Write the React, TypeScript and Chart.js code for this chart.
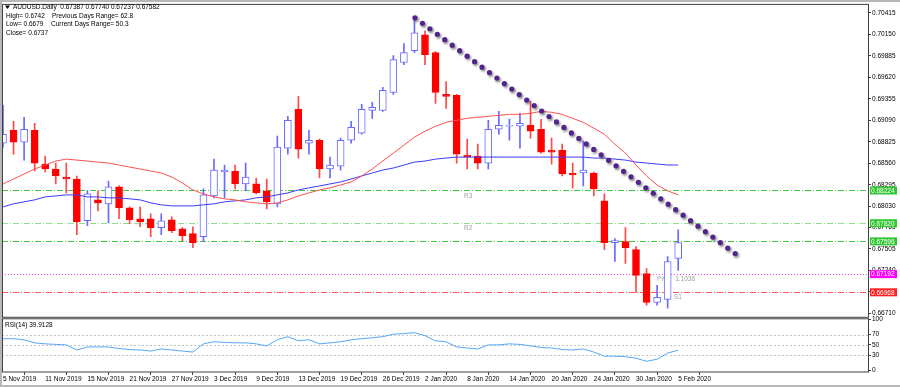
import React, { useEffect, useRef } from "react";
import { Chart, registerables } from "chart.js";

Chart.register(...registerables);

// ---------- data ----------
const dateLabels = [
  "5 Nov 2019", "11 Nov 2019", "15 Nov 2019", "21 Nov 2019", "27 Nov 2019",
  "3 Dec 2019", "9 Dec 2019", "13 Dec 2019", "19 Dec 2019", "26 Dec 2019",
  "2 Jan 2020", "8 Jan 2020", "14 Jan 2020", "20 Jan 2020", "24 Jan 2020",
  "30 Jan 2020", "5 Feb 2020",
];
const dateTickBars = [0, 4, 8, 12, 16, 20, 24, 28, 32, 36, 40, 44, 48, 52, 56, 60, 64];

const opens = [
  0.68808, 0.68967, 0.6882, 0.68967, 0.6855, 0.68489, 0.6839, 0.68366, 0.67851, 0.68108,
  0.68059, 0.68268, 0.6801, 0.67875, 0.67875, 0.67765, 0.67863, 0.67752, 0.67691, 0.67654,
  0.68157, 0.68452, 0.68464, 0.68305, 0.68305, 0.68219, 0.68059, 0.68746, 0.69225, 0.68808,
  0.68844, 0.68489, 0.68525, 0.68844, 0.6893, 0.69213, 0.69213, 0.69433, 0.69802, 0.69949,
  0.70145, 0.69924, 0.69409, 0.69397, 0.6866, 0.68648, 0.68562, 0.68979, 0.69016, 0.69016,
  0.69029, 0.68979, 0.68722, 0.68722, 0.6844, 0.6844, 0.6844, 0.68096, 0.67581, 0.67593,
  0.67495, 0.672, 0.66844, 0.66881, 0.67387,
];
const highs = [
  0.69274, 0.69078, 0.69127, 0.69053, 0.68648, 0.68562, 0.68562, 0.68403, 0.68219, 0.68219,
  0.68341, 0.6828, 0.68022, 0.68022, 0.67936, 0.67936, 0.679, 0.67765, 0.67777, 0.68243,
  0.68611, 0.68538, 0.68538, 0.68562, 0.68378, 0.68366, 0.68894, 0.69139, 0.69384, 0.68967,
  0.68857, 0.68636, 0.68869, 0.69078, 0.69286, 0.69311, 0.69495, 0.69887, 0.70035, 0.70329,
  0.70194, 0.69937, 0.69568, 0.69409, 0.68857, 0.68795, 0.6909, 0.692, 0.69102, 0.69176,
  0.69323, 0.69102, 0.68869, 0.68795, 0.68562, 0.68832, 0.68452, 0.68182, 0.6763, 0.67765,
  0.67532, 0.67262, 0.67053, 0.67409, 0.6774,
];
const lows = [
  0.68759, 0.68673, 0.68599, 0.68464, 0.68452, 0.68305, 0.68194, 0.67679, 0.67789, 0.67973,
  0.67826, 0.67875, 0.67814, 0.67777, 0.67654, 0.67679, 0.67703, 0.67605, 0.67519, 0.67593,
  0.68133, 0.68133, 0.68243, 0.68219, 0.68182, 0.67998, 0.68022, 0.68673, 0.68624, 0.68673,
  0.68378, 0.68378, 0.68476, 0.68808, 0.68918, 0.69114, 0.692, 0.69409, 0.69777, 0.69924,
  0.69777, 0.69298, 0.69237, 0.68562, 0.68489, 0.68489, 0.68489, 0.68918, 0.68844, 0.68746,
  0.68869, 0.68685, 0.6855, 0.68403, 0.68256, 0.6828, 0.68157, 0.67495, 0.67348, 0.67323,
  0.66967, 0.66808, 0.66808, 0.66771, 0.67237,
];
const closes = [
  0.68918, 0.6882, 0.68979, 0.68562, 0.68489, 0.68403, 0.68366, 0.67838, 0.68182, 0.68071,
  0.68268, 0.6801, 0.67863, 0.67838, 0.67765, 0.67851, 0.67728, 0.67667, 0.67581, 0.6817,
  0.68476, 0.68476, 0.68305, 0.6839, 0.68194, 0.68084, 0.68759, 0.6909, 0.68734, 0.68844,
  0.68489, 0.68538, 0.68844, 0.69004, 0.69225, 0.69249, 0.69458, 0.69838, 0.69924, 0.7017,
  0.699, 0.69433, 0.69384, 0.68673, 0.68636, 0.68562, 0.68979, 0.69029, 0.69029, 0.69053,
  0.68955, 0.68697, 0.68697, 0.68427, 0.68415, 0.68476, 0.68243, 0.67581, 0.67605, 0.67519,
  0.67176, 0.66844, 0.66906, 0.67348, 0.67582,
];
const maFast = [
  0.68305, 0.68366, 0.68427, 0.68489, 0.68538, 0.68587, 0.68611, 0.68599, 0.68587, 0.68574,
  0.68562, 0.68538, 0.68513, 0.68489, 0.68464, 0.6844, 0.6839, 0.68317, 0.68231, 0.68182,
  0.68145, 0.68121, 0.68108, 0.68084, 0.68071, 0.68059, 0.68071, 0.68108, 0.68157, 0.68194,
  0.68231, 0.68256, 0.68292, 0.68329, 0.68403, 0.68489, 0.68587, 0.68685, 0.68783, 0.68881,
  0.68955, 0.69016, 0.69065, 0.6909, 0.69114, 0.69127, 0.69139, 0.69151, 0.69163, 0.69163,
  0.69176, 0.692, 0.69188, 0.69163, 0.69114, 0.69065, 0.68992, 0.68918, 0.68795, 0.68685,
  0.68538, 0.68403, 0.68292, 0.68219, 0.6817,
];
const maSlow = [
  0.68022, 0.68059, 0.68084, 0.68108, 0.68145, 0.68157, 0.6817, 0.6817, 0.68145, 0.68145,
  0.68133, 0.68133, 0.68121, 0.68108, 0.68071, 0.68047, 0.68034, 0.68034, 0.68034, 0.68047,
  0.68059, 0.68084, 0.68096, 0.68108, 0.68133, 0.68145, 0.6817, 0.68194, 0.68231, 0.68256,
  0.6828, 0.68305, 0.68329, 0.68366, 0.68403, 0.6844, 0.68476, 0.68501, 0.68538, 0.68574,
  0.68587, 0.68611, 0.68624, 0.68636, 0.68636, 0.68636, 0.68636, 0.68636, 0.68636, 0.68636,
  0.68636, 0.68636, 0.68636, 0.68636, 0.68636, 0.68636, 0.68624, 0.68624, 0.68611, 0.68599,
  0.68574, 0.68562, 0.6855, 0.68538, 0.68538,
];
const rsiValues = [
  62, 62, 60, 54, 52, 51, 50, 40, 46, 46,
  46, 43, 41, 40, 38, 42, 40, 38, 36, 52,
  56, 55, 54, 54, 52, 48, 60, 66, 58, 60,
  52, 54, 56, 60, 62, 64, 66, 71, 72, 74,
  68, 58, 56, 46, 44, 42, 50, 50, 52, 51,
  48, 45, 44, 41, 40, 42, 36, 28, 28, 27,
  24, 18, 22, 34, 39.9128,
];

const priceTickLabels = [
  "0.70415", "0.70150", "0.69885", "0.69620", "0.69355", "0.69090", "0.68825", "0.68560",
  "0.68295", "0.68030", "0.67765", "0.67505", "0.67240", "0.66975", "0.66710",
];
const rsiTickValues = [0, 30, 50, 70, 100];
const rsiLevelLines = [30, 50, 70];

const levelValues = [0.68224, 0.6782, 0.67596, 0.67192, 0.66968];
const levelLabels = ["0.68224", "0.67820", "0.67596", "0.67192", "0.66968"];

const pivotNames = ["R3", "R2", "Pivot  1.1036", "S1"];
const pivotLevels = [0.68224, 0.6782, 0.67192, 0.66968];
const pivotBars = [43.7, 43.7, 62.0, 63.6];

const trendStart = { bar: 39.05, price: 0.70354 };
const trendEnd = { bar: 69.4, price: 0.67446 };

const headerLine = "AUDUSD.Daily  0.67387 0.67740 0.67237 0.67582";
const infoLeft = ["High= 0.6742", "Low= 0.6679", "Close= 0.6737"];
const infoRight = ["Previous Days Range= 62.8", "Current Days Range= 50.3"];
const rsiTitle = "RSI(14) 39.9128";

// ---------- styles ----------
const FONT = '"Liberation Sans", Arial, sans-serif';
const BULL = "#6a6aff";
const BEAR = "#ff0000";
const BEAR_WICK = "#ff4848";
const levelLineColors = ["#3fc83f", "#8fdf8f", "#3fc83f", "#ee44ee", "#ff5555"];
const levelBoxColors = ["#33c633", "#33c633", "#33c633", "#ff00ff", "#ff2020"];
const levelDashes = [[6, 2, 1, 2], [6, 2, 1, 2], [6, 2, 1, 2], [1, 2], [6, 2, 1, 2]];

const X_MIN = -0.0948;
const X_MAX = 81.99;
const Y_MIN = 0.6666;
const Y_MAX = 0.70513;

const idx = opens.map((_, i) => i);

function dot(ctx: CanvasRenderingContext2D, px: number, py: number, r: number) {
  ctx.beginPath();
  ctx.arc(px, py, r, 0, Math.PI * 2);
  ctx.fill();
}

const mt4Plugin = {
  id: "mt4",
  beforeDraw(chart: any) {
    const ctx = chart.ctx;
    ctx.save();
    ctx.fillStyle = "#ffffff";
    ctx.fillRect(0, 0, chart.width, chart.height);
    ctx.restore();
  },
  beforeDatasetsDraw(chart: any) {
    const { ctx, chartArea: area } = chart;
    const x = chart.scales.x;
    const y = chart.scales.y;
    const r = chart.scales.rsi;
    ctx.save();
    ctx.beginPath();
    ctx.rect(area.left, y.top, area.right - area.left, y.bottom - y.top);
    ctx.clip();
    levelValues.forEach((v, k) => {
      const py = Math.round(y.getPixelForValue(v)) + 0.5;
      ctx.strokeStyle = levelLineColors[k];
      ctx.setLineDash(levelDashes[k]);
      ctx.lineWidth = 1;
      ctx.beginPath();
      ctx.moveTo(area.left, py);
      ctx.lineTo(area.right, py);
      ctx.stroke();
    });
    ctx.setLineDash([]);
    ctx.font = `6.5px ${FONT}`;
    ctx.fillStyle = "#a0a0a0";
    ctx.textBaseline = "top";
    ctx.textAlign = "left";
    pivotNames.forEach((name, k) => {
      ctx.fillText(name, x.getPixelForValue(pivotBars[k]), y.getPixelForValue(pivotLevels[k]) + 2);
    });
    ctx.restore();

    ctx.save();
    ctx.strokeStyle = "#c4c4c4";
    ctx.setLineDash([2, 2]);
    ctx.lineWidth = 1;
    rsiLevelLines.forEach((v) => {
      const py = Math.round(r.getPixelForValue(v)) + 0.5;
      ctx.beginPath();
      ctx.moveTo(area.left, py);
      ctx.lineTo(area.right, py);
      ctx.stroke();
    });
    ctx.restore();
  },
  afterDatasetsDraw(chart: any) {
    const { ctx } = chart;
    const x = chart.scales.x;
    const y = chart.scales.y;
    const x0 = x.getPixelForValue(trendStart.bar);
    const y0 = y.getPixelForValue(trendStart.price);
    const x1 = x.getPixelForValue(trendEnd.bar);
    const y1 = y.getPixelForValue(trendEnd.price);
    const len = Math.hypot(x1 - x0, y1 - y0);
    const n = Math.round(len / 9.3);
    ctx.save();
    ctx.filter = "blur(0.8px)";
    ctx.fillStyle = "rgba(60,60,60,0.6)";
    for (let k = 0; k <= n; k++) {
      const t = k / n;
      dot(ctx, x0 + (x1 - x0) * t + 1.3, y0 + (y1 - y0) * t + 1.7, 2.7);
    }
    ctx.filter = "none";
    ctx.fillStyle = "#52258c";
    for (let k = 0; k <= n; k++) {
      const t = k / n;
      dot(ctx, x0 + (x1 - x0) * t, y0 + (y1 - y0) * t, 2.6);
    }
    ctx.restore();
  },
  afterDraw(chart: any) {
    const { ctx, chartArea: area } = chart;
    const y = chart.scales.y;
    const r = chart.scales.rsi;
    ctx.save();
    // outer frame
    ctx.fillStyle = "#b8b8b8";
    ctx.fillRect(0, 0, chart.width, 2);
    ctx.fillRect(0, 0, 2, chart.height);
    ctx.fillRect(0, chart.height - 2, chart.width, 2);
    // pane borders
    ctx.strokeStyle = "#404040";
    ctx.lineWidth = 1;
    ctx.strokeRect(area.left + 0.5, y.top - 0.5, area.right - area.left, y.bottom - y.top + 0.5);
    ctx.strokeRect(area.left + 0.5, r.top + 1.5, area.right - area.left, r.bottom - r.top - 1.5);
    // header info
    ctx.fillStyle = "#000";
    ctx.beginPath();
    ctx.moveTo(5, 5.5);
    ctx.lineTo(10, 5.5);
    ctx.lineTo(7.5, 9);
    ctx.closePath();
    ctx.fill();
    ctx.font = `6.5px ${FONT}`;
    ctx.textBaseline = "middle";
    ctx.textAlign = "left";
    ctx.fillText(headerLine, 13, 7.5);
    infoLeft.forEach((s, k) => ctx.fillText(s, 6, 16 + k * 8.5));
    infoRight.forEach((s, k) => ctx.fillText(s, 52 - k, 16 + k * 8.5));
    ctx.fillText(rsiTitle, 5, r.top + 7.5);
    // level boxes
    levelValues.forEach((v, k) => {
      const py = y.getPixelForValue(v);
      ctx.fillStyle = levelBoxColors[k];
      ctx.fillRect(y.left + 2, py - 4, 27, 8);
      ctx.fillStyle = "#ffffff";
      ctx.fillText(levelLabels[k], y.left + 3, py + 0.5);
    });
    ctx.restore();
  },
};

export default function App() {
  const ref = useRef<HTMLCanvasElement | null>(null);
  useEffect(() => {
    document.body.style.margin = "0";
    const canvas = ref.current;
    if (!canvas) return;
    const bull = idx.map((i) => closes[i] >= opens[i]);
    const tickFont = { family: FONT, size: 6.5 };
    const chart = new Chart(canvas, {
      data: {
        datasets: [
          {
            type: "line",
            data: idx.map((i) => ({ x: i, y: rsiValues[i] })),
            yAxisID: "rsi",
            borderColor: "#55a8f5",
            borderWidth: 1,
            pointRadius: 0,
            tension: 0,
            order: 0,
          },
          {
            type: "line",
            data: idx.map((i) => ({ x: i, y: maFast[i] })),
            yAxisID: "y",
            borderColor: "#ff5050",
            borderWidth: 1,
            pointRadius: 0,
            tension: 0,
            order: 1,
          },
          {
            type: "line",
            data: idx.map((i) => ({ x: i, y: maSlow[i] })),
            yAxisID: "y",
            borderColor: "#3b3bff",
            borderWidth: 1,
            pointRadius: 0,
            tension: 0,
            order: 1,
          },
          {
            type: "bar",
            data: idx.map((i) => ({ x: i, y: [opens[i], closes[i]] })),
            yAxisID: "y",
            barThickness: 7,
            grouped: false,
            backgroundColor: bull.map((b) => (b ? "#ffffff" : BEAR)),
            borderColor: bull.map((b) => (b ? BULL : BEAR)),
            borderWidth: 1,
            borderSkipped: false,
            order: 2,
          },
          {
            type: "bar",
            data: idx.map((i) => ({ x: i, y: [lows[i], highs[i]] })),
            yAxisID: "y",
            barThickness: 1,
            grouped: false,
            backgroundColor: bull.map((b) => (b ? BULL : BEAR_WICK)),
            borderWidth: 0,
            order: 3,
          },
        ] as any,
      },
      options: {
        animation: false,
        responsive: false,
        maintainAspectRatio: false,
        events: [],
        layout: { padding: { left: 2, top: 3, right: 0, bottom: 0 } },
        plugins: { legend: { display: false }, tooltip: { enabled: false } },
        scales: {
          x: {
            type: "linear",
            min: X_MIN,
            max: X_MAX,
            bounds: "data",
            offset: false,
            position: "bottom",
            afterBuildTicks: (s: any) => {
              s.ticks = dateTickBars.map((v) => ({ value: v }));
            },
            afterFit: (s: any) => {
              s.height = 15;
            },
            ticks: {
              autoSkip: false,
              maxRotation: 0,
              minRotation: 0,
              align: "start",
              padding: 0,
              color: "#000",
              font: tickFont,
              callback: (_v: any, i: number) => dateLabels[i],
            },
            grid: { drawOnChartArea: false, tickLength: 3, color: "#404040" },
            border: { display: false },
          },
          y: {
            type: "linear",
            position: "right",
            stack: "panes",
            stackWeight: 314,
            min: Y_MIN,
            max: Y_MAX,
            bounds: "data",
            afterBuildTicks: (s: any) => {
              s.ticks = priceTickLabels.map((t) => ({ value: parseFloat(t) }));
            },
            afterFit: (s: any) => {
              s.width = 32;
            },
            ticks: {
              autoSkip: false,
              padding: 1,
              color: "#000",
              font: tickFont,
              callback: (_v: any, i: number) => priceTickLabels[i],
            },
            grid: { drawOnChartArea: false, tickLength: 3, color: "#404040" },
            border: { display: false },
          },
          rsi: {
            type: "linear",
            position: "right",
            stack: "panes",
            stackWeight: 55,
            min: -2.9,
            max: 103.9,
            bounds: "data",
            afterBuildTicks: (s: any) => {
              s.ticks = rsiTickValues.map((v) => ({ value: v }));
            },
            afterFit: (s: any) => {
              s.width = 32;
            },
            ticks: {
              autoSkip: false,
              padding: 1,
              color: "#000",
              font: tickFont,
              callback: (v: any) => String(v),
            },
            grid: { drawOnChartArea: false, tickLength: 3, color: "#404040" },
            border: { display: false },
          },
        },
      } as any,
      plugins: [mt4Plugin],
    });
    return () => chart.destroy();
  }, []);
  return <canvas ref={ref} width={900} height={387} style={{ display: "block" }} />;
}
